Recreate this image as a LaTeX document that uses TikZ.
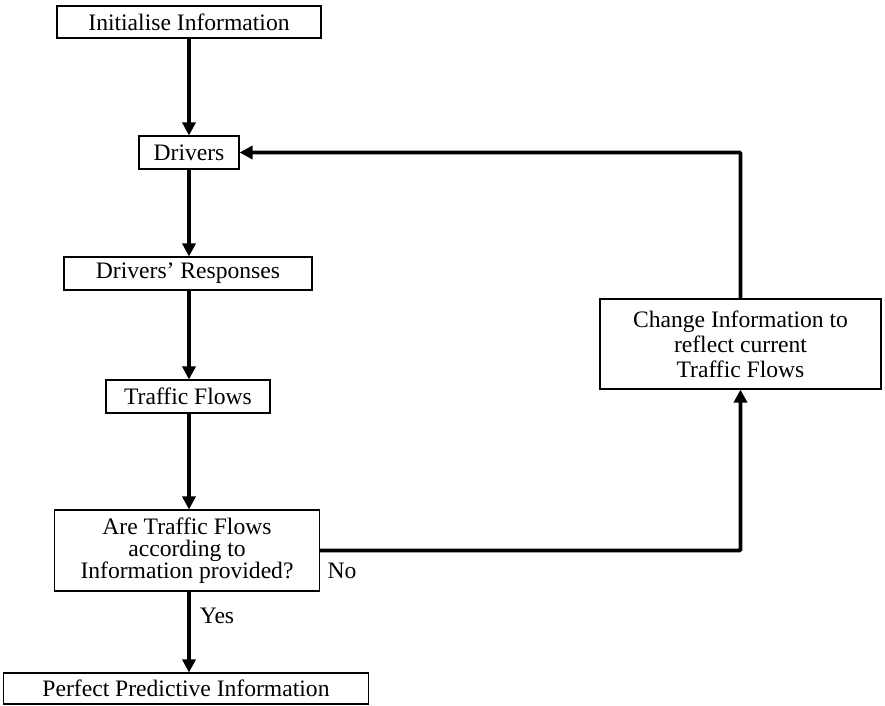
\documentclass[tikz,border=0pt]{standalone}
\usepackage{fontspec}
\setmainfont{Liberation Serif}
\usetikzlibrary{arrows.meta}
\begin{document}
\begin{tikzpicture}[x=1pt,y=-1pt,
  box/.style={draw=black,line width=1.1pt,inner sep=0pt,align=center,
    font=\fontsize{23.6}{22}\selectfont},
  flow/.style={line width=3.8pt,-{Triangle[length=13pt,width=13pt]}},
  lbl/.style={font=\fontsize{23.6}{22}\selectfont,inner sep=0pt}]
\useasboundingbox (0,0) rectangle (885,705);
\node[box,minimum width=264pt,minimum height=32pt] (init) at (189,22) {Initialise Information};
\node[box,minimum width=100pt,minimum height=33pt] (drv) at (189,152.5) {Drivers};
\node[box,minimum width=248pt,minimum height=33pt] (resp) at (188,273.5) {Drivers' Responses};
\node[box,minimum width=164pt,minimum height=33pt] (tf) at (188,396.5) {Traffic Flows};
\node[box,minimum width=265pt,minimum height=81pt] (dec) at (187,550.5) {Are Traffic Flows\\according to\\Information provided?};
\node[box,minimum width=365pt,minimum height=31pt] (perf) at (186,688.5) {Perfect Predictive Information};
\node[box,minimum width=281pt,minimum height=90pt,font=\fontsize{23.6}{25}\selectfont] (chg) at (740.5,344) {Change Information to\\reflect current\\Traffic Flows};
\node[lbl] (no) at (342,571) {No};
\node[lbl] (yes) at (217,616) {Yes};
\draw[flow] (init.south -| drv.north) -- (drv.north);
\draw[flow] (drv.south) -- (drv.south |- resp.north);
\draw[flow] (resp.south -| drv.south) -- (drv.south |- tf.north);
\draw[flow] (tf.south -| drv.south) -- (drv.south |- dec.north);
\draw[flow] (dec.south -| drv.south) -- (drv.south |- perf.north);
\draw[flow,rounded corners=1pt] (dec.east) -| (chg.south);
\draw[flow,rounded corners=1pt] (chg.north) |- (drv.east);
\end{tikzpicture}
\end{document}
